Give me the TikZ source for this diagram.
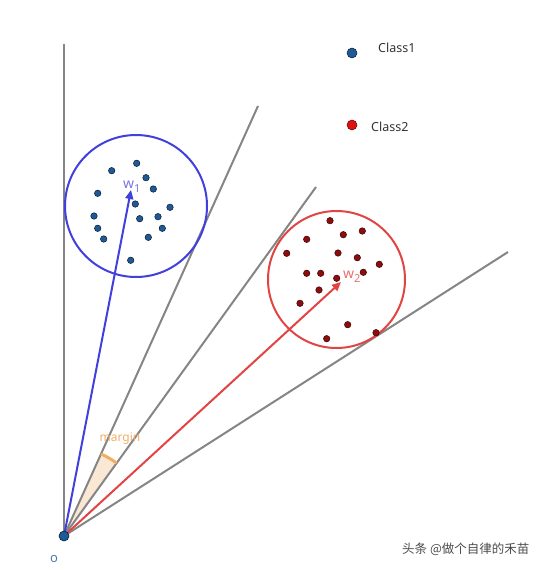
\documentclass[tikz,border=0pt]{standalone}
\usepackage{fontspec}
\setmainfont{Noto Sans}
\newfontfamily\cjk{Noto Sans CJK SC}
\usetikzlibrary{arrows.meta}
\definecolor{rayg}{HTML}{858585}
\definecolor{bluec}{HTML}{4040DD}
\definecolor{redc}{HTML}{E24444}
\definecolor{dotb}{HTML}{1F5A98}
\definecolor{dotr}{HTML}{8E0C0C}
\definecolor{legr}{HTML}{E01010}
\definecolor{marg}{HTML}{F2AE66}
\definecolor{wlab}{HTML}{7B74E0}
\definecolor{wlabr}{HTML}{EC6E6E}
\tikzset{
  ray/.style={draw=rayg, line width=2pt},
  bdot/.style={circle, fill=dotb, draw=black!70!dotb, line width=0.5pt, inner sep=0pt, minimum size=6.5pt},
  rdot/.style={circle, fill=dotr, draw=black!60!dotr, line width=0.5pt, inner sep=0pt, minimum size=6.5pt},
  txt/.style={inner sep=0pt, font=\fontsize{12.5}{14}\selectfont, text=black!80},
  wl/.style={inner sep=0pt, font=\fontsize{14}{16}\selectfont, anchor=base west},
}
\newcommand{\wsub}[1]{w\raisebox{-4pt}{\fontsize{11}{12}\selectfont #1}}
\begin{document}
\begin{tikzpicture}[x=1pt,y=-1pt]
\useasboundingbox (0,0) rectangle (559,570);
\coordinate (O) at (64,536);
\coordinate (Top) at (64,44);
\coordinate (A) at (258,106);
\coordinate (B) at (316,187);
\coordinate (C) at (508,252);
\coordinate (W1) at (131,190);
\coordinate (W2) at (341,282);
% margin wedge
\fill[marg!28] (O) -- ++(-54.2:90) arc[start angle=-54.2, end angle=-65.7, radius=90] -- cycle;
% rays
\draw[ray] (O) -- (Top);
\draw[ray] (O) -- (A);
\draw[ray] (O) -- (B);
\draw[ray] (O) -- (C);
\draw[marg, line width=3pt] ([shift={(-54.2:90)}]O) arc[start angle=-54.2, end angle=-65.7, radius=90];
% circles
\draw[bluec, line width=2pt] (136,206) circle[radius=71];
\draw[redc, line width=2pt] (336.5,279.5) circle[radius=68.5];
% vectors
\draw[bluec, line width=2pt, -{Triangle[length=9pt,width=8pt]}] (O) -- (W1);
\draw[redc, line width=2pt, -{Triangle[length=9pt,width=8pt]}] (O) -- (W2);
% blue dots
\foreach \p [count=\i] in {(136.7,163.3),(111.7,170.7),(146,177.7),(153.3,189),(97.7,193.3),(135.3,204),(170,207.3),(94,216),(139.7,218.7),(158,216.7),(97.7,228.3),(162.3,228.3),(103.7,239),(148.3,237.3),(130.7,260.3)}
  \node[bdot] (b\i) at \p {};
% red dots
\foreach \p [count=\i] in {(330,220.7),(343.3,234.7),(362.3,231),(306.7,239.3),(286.7,253.3),(338,253),(357.3,257.7),(379.3,264.3),(306.7,273.3),(320.7,273.3),(363.3,272.3),(336.7,278.3),(319,290),(300,303.3),(347.7,324.7),(326.7,338.7),(376,332.7)}
  \node[rdot] (r\i) at \p {};
% origin
\node[circle, fill=dotb, draw=black!70!dotb, line width=0.6pt, inner sep=0pt, minimum size=10pt] (Odot) at (O) {};
\node[inner sep=0pt, text=dotb!80, font=\fontsize{13}{14}\selectfont] (olab) at (54,559) {o};
% labels
\node[wl, text=wlab] (w1lab) at (123,188) {\wsub{1}};
\node[wl, text=wlabr] (w2lab) at (343,278) {\wsub{2}};
\node[inner sep=0pt, text=marg, font=\fontsize{12}{13}\selectfont] (mlab) at (120,439) {margin};
% legend
\node[bdot, minimum size=10pt] (l1) at (352,53) {};
\node[txt, anchor=west] (l1t) at (378,48) {Class1};
\node[circle, fill=legr, draw=black!60!legr, line width=0.5pt, inner sep=0pt, minimum size=10pt] (l2) at (352,125) {};
\node[txt, anchor=west] (l2t) at (371,127) {Class2};
% watermark
\node[inner sep=0pt, text=black!70, font=\cjk\fontsize{12.5}{14}\selectfont, anchor=west] (wm) at (402,549) {头条 @做个自律的禾苗};
\end{tikzpicture}
\end{document}
